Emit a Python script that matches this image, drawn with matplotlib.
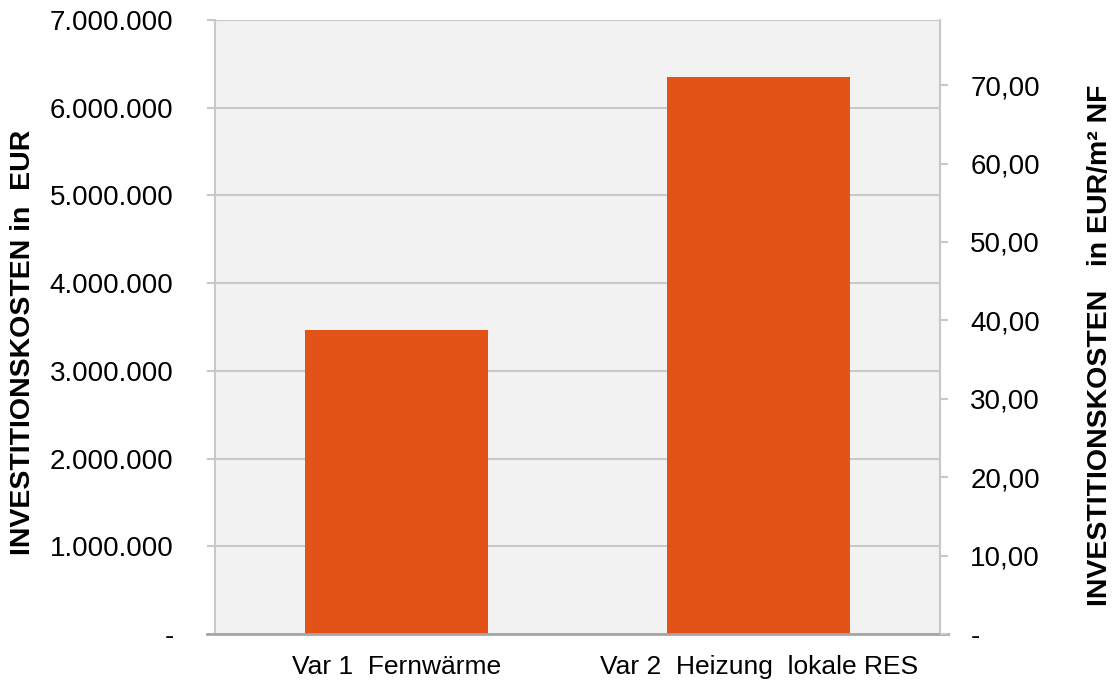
import matplotlib.pyplot as plt
import numpy as np
from matplotlib.ticker import FuncFormatter, MultipleLocator

plt.rcParams['font.family'] = ['Liberation Sans', 'DejaVu Sans']

categories = ['Var 1  Fernwärme', 'Var 2  Heizung  lokale RES']
invest_eur = [3466000, 6350000]
right_max = 78.3  # EUR/m² NF corresponding to 7.000.000 EUR

bar_color = '#E35216'
grid_color = '#C8C8C8'

fig = plt.figure(figsize=(11.16, 6.85), dpi=100)
ax = fig.add_axes([215 / 1116, 1 - 634 / 685, 725 / 1116, 614 / 685])
ax.set_facecolor('#F2F2F2')

x = np.arange(len(categories))
ax.bar(x, invest_eur, width=0.505, color=bar_color, zorder=3)

ax.set_xlim(-0.5, 1.5)
ax.set_ylim(0, 7000000)
ax.yaxis.set_major_locator(MultipleLocator(1000000))


def eur_fmt(v, pos):
    if v == 0:
        return '-'
    return f'{int(round(v)):,}'.replace(',', '.')


ax.yaxis.set_major_formatter(FuncFormatter(eur_fmt))
ax.grid(axis='y', color=grid_color, linewidth=1.5, zorder=0)
ax.set_xticks(x)
ax.set_xticklabels(categories, fontsize=19)
ax.tick_params(axis='x', length=0, pad=15)
ax.tick_params(axis='y', labelsize=20, length=5.8, width=1.5, color=grid_color, pad=24)
for lbl in ax.get_yticklabels():
    lbl.set_horizontalalignment('right')

for side in ['left', 'right']:
    ax.spines[side].set_color(grid_color)
    ax.spines[side].set_linewidth(1.5)
ax.spines['top'].set_visible(False)
ax.spines['bottom'].set_visible(False)
# base line runs out under the tick marks on both sides
ax.plot([-0.011, 1.011], [0, 0], transform=ax.transAxes, color='#A6A6A6',
        linewidth=2, clip_on=False, zorder=4)

ax.set_ylabel('INVESTITIONSKOSTEN in  EUR', fontsize=20.5, fontweight='bold', labelpad=10)
ax.yaxis.label.set_y(0.475)

ax2 = ax.twinx()
ax2.set_ylim(0, right_max)
ax2.yaxis.set_major_locator(MultipleLocator(10))


def m2_fmt(v, pos):
    if v == 0:
        return '-'
    return f'{v:.2f}'.replace('.', ',')


ax2.yaxis.set_major_formatter(FuncFormatter(m2_fmt))
ax2.tick_params(axis='y', labelsize=20, length=5.8, width=1.5, color=grid_color, pad=16)
for side in ['left', 'right', 'top', 'bottom']:
    ax2.spines[side].set_visible(False)
ax2.set_ylabel('INVESTITIONSKOSTEN   in EUR/m² NF', fontsize=20.5, fontweight='bold', labelpad=34)
ax2.yaxis.label.set_y(0.47)

fig.savefig('out.png', dpi=100)
